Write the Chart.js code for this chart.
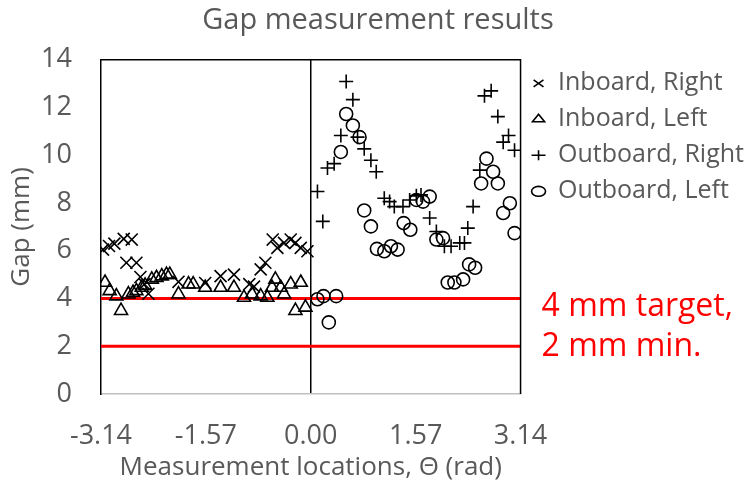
<!DOCTYPE html>
<html>
<head>
<meta charset="utf-8">
<script src="https://cdn.jsdelivr.net/npm/chart.js@4.4.1/dist/chart.umd.min.js"></script>
<style>
  body { margin: 0; background: #fff; }
  #wrap { width: 754px; height: 485px; }
</style>
</head>
<body>
<div id="wrap"><canvas id="gap"></canvas></div>
<script>
// x tick values / labels (rad)
const xTickValues = [-3.14, -1.57, 0, 1.57, 3.14];
const xTickLabels = ['-3.14', '-1.57', '0.00', '1.57', '3.14'];

// Inboard, Right
const inRightTheta = [-3.11, -3.02, -2.94, -2.80, -2.68, -2.76, -2.61, -2.55, -2.49, -2.43, -1.98, -1.58, -1.35, -1.15, -0.92, -0.85, -0.75, -0.68, -0.57, -0.50, -0.40, -0.30, -0.23, -0.15, -0.05];
const inRightGap = [6.05, 6.2, 6.3, 6.5, 6.47, 5.5, 5.5, 4.9, 4.6, 4.2, 4.7, 4.65, 4.94, 5.0, 4.6, 4.5, 5.22, 5.5, 6.47, 6.12, 6.33, 6.47, 6.33, 6.12, 5.98];

// Inboard, Left
const inLeftTheta = [-3.08, -3.01, -2.91, -2.84, -2.73, -2.66, -2.61, -2.53, -2.48, -2.38, -2.31, -2.23, -2.16, -2.11, -1.98, -1.83, -1.76, -1.58, -1.35, -1.15, -1.00, -0.88, -0.75, -0.65, -0.58, -0.53, -0.45, -0.40, -0.30, -0.23, -0.15, -0.08];
const inLeftGap = [4.67, 4.32, 4.1, 3.49, 4.18, 4.25, 4.32, 4.46, 4.55, 4.8, 4.87, 4.94, 5.0, 5.0, 4.18, 4.6, 4.6, 4.46, 4.46, 4.46, 4.04, 4.18, 4.1, 4.04, 4.46, 4.8, 4.46, 4.18, 4.6, 3.49, 4.67, 3.63];

// Outboard, Right
const outRightTheta = [0.10, 0.18, 0.25, 0.35, 0.45, 0.53, 0.63, 0.70, 0.80, 0.90, 0.98, 1.10, 1.18, 1.25, 1.38, 1.48, 1.58, 1.65, 1.78, 1.88, 2.00, 2.10, 2.23, 2.30, 2.35, 2.43, 2.53, 2.60, 2.70, 2.80, 2.88, 2.96, 3.05];
const outRightGap = [8.48, 7.23, 9.47, 9.65, 10.83, 13.09, 12.33, 10.76, 10.27, 9.79, 9.31, 8.2, 8.06, 7.85, 7.85, 8.13, 8.3, 8.34, 7.37, 6.81, 6.19, 6.19, 6.33, 6.33, 6.95, 7.85, 9.38, 12.49, 12.70, 11.62, 10.55, 10.83, 10.21];

// Outboard, Left
const outLeftTheta = [0.10, 0.19, 0.27, 0.38, 0.45, 0.53, 0.63, 0.73, 0.80, 0.90, 0.99, 1.10, 1.20, 1.30, 1.39, 1.49, 1.58, 1.68, 1.78, 1.88, 1.98, 2.05, 2.15, 2.28, 2.37, 2.46, 2.55, 2.63, 2.73, 2.80, 2.88, 2.98, 3.05];
const outLeftGap = [3.97, 4.1, 3.0, 4.1, 10.14, 11.73, 11.25, 10.76, 7.69, 7.02, 6.08, 5.98, 6.19, 6.05, 7.16, 6.88, 8.13, 8.06, 8.27, 6.47, 6.53, 4.67, 4.67, 4.8, 5.43, 5.29, 8.82, 9.86, 9.31, 8.82, 7.58, 7.99, 6.74];

// limit lines
const targetGap = 4;
const minGap = 2;

const FONT = "'Open Sans', sans-serif";
const GREY = '#595959';

function pairs(xs, ys) {
    return xs.map((x, i) => ({ x: x, y: ys[i] }));
}

function markers(label, xs, ys, style, r) {
    return {
        label: label,
        data: pairs(xs, ys),
        pointStyle: style,
        pointRadius: r,
        pointHoverRadius: r,
        borderColor: '#000',
        backgroundColor: 'rgba(0,0,0,0)',
        borderWidth: 1.6
    };
}

function limitLine(v) {
    return {
        label: 'limit ' + v,
        data: [{ x: xTickValues[0], y: v }, { x: xTickValues[xTickValues.length - 1], y: v }],
        showLine: true,
        pointRadius: 0,
        borderColor: '#ff0000',
        borderWidth: 3
    };
}

// frame on top/right and the red notes next to the limit lines
const extras = {
    id: 'extras',
    afterLayout(chart) {
        // let legend text run to the canvas edge (no clipping)
        const lg = chart.legend;
        if (lg) {
            lg.right = chart.width;
            lg.width = lg.right - lg.left;
        }
    },
    afterDraw(chart) {
        const { ctx, chartArea: a, scales } = chart;
        ctx.save();
        ctx.strokeStyle = '#000';
        ctx.lineWidth = 1.5;
        ctx.beginPath();
        ctx.moveTo(a.left, a.top);
        ctx.lineTo(a.right, a.top);
        ctx.lineTo(a.right, a.bottom);
        ctx.stroke();

        ctx.fillStyle = '#ff0000';
        ctx.font = "32px " + FONT;
        ctx.textBaseline = 'middle';
        ctx.fillText('4 mm target,', a.right + 21, scales.y.getPixelForValue(targetGap) + 8);
        ctx.fillText('2 mm min.', a.right + 21, scales.y.getPixelForValue(minGap) + 1);
        ctx.restore();
    }
};

new Chart(document.getElementById('gap'), {
    type: 'scatter',
    data: {
        datasets: [
            markers('Inboard, Right', inRightTheta, inRightGap, 'crossRot', 8.5),
            markers('Inboard, Left', inLeftTheta, inLeftGap, 'triangle', 7.5),
            markers('Outboard, Right', outRightTheta, outRightGap, 'cross', 7),
            markers('Outboard, Left', outLeftTheta, outLeftGap, 'circle', 6.5),
            limitLine(targetGap),
            limitLine(minGap)
        ]
    },
    options: {
        responsive: true,
        maintainAspectRatio: false,
        animation: false,
        layout: { padding: { left: 2, right: 0, top: 0, bottom: 2 } },
        scales: {
            x: {
                type: 'linear',
                min: xTickValues[0],
                max: xTickValues[xTickValues.length - 1],
                afterBuildTicks: (scale) => {
                    scale.ticks = xTickValues.map(v => ({ value: v }));
                },
                afterFit: (scale) => { scale.height = 89; },
                ticks: {
                    callback: (v) => xTickLabels[xTickValues.indexOf(v)],
                    font: { family: FONT, size: 27 },
                    color: GREY,
                    padding: 26,
                    maxRotation: 0,
                    autoSkip: false
                },
                grid: {
                    drawTicks: false,
                    lineWidth: 1.5,
                    color: (c) => (c.tick && c.tick.value === 0) ? '#000' : 'rgba(0,0,0,0)'
                },
                border: { color: '#bfbfbf', width: 1.5 },
                title: {
                    display: true,
                    text: 'Measurement locations, Θ (rad)',
                    font: { family: FONT, size: 26 },
                    color: GREY,
                    padding: 0
                }
            },
            y: {
                min: 0,
                max: 14,
                afterFit: (scale) => { scale.width = 99; },
                ticks: {
                    stepSize: 2,
                    font: { family: FONT, size: 27 },
                    color: GREY,
                    padding: 29
                },
                grid: { display: false, drawTicks: false },
                border: { color: '#000', width: 1.5 },
                title: {
                    display: true,
                    text: 'Gap (mm)',
                    font: { family: FONT, size: 26 },
                    color: GREY,
                    padding: 4
                }
            }
        },
        plugins: {
            title: {
                display: true,
                text: 'Gap measurement results',
                font: { family: FONT, size: 29, weight: 'normal' },
                color: GREY,
                padding: { top: 3, bottom: 22 }
            },
            legend: {
                position: 'right',
                align: 'start',
                fullSize: false,
                maxWidth: 235,
                labels: {
                    usePointStyle: true,
                    pointStyleWidth: 14,
                    boxHeight: 7,
                    padding: 11,
                    font: { family: FONT, size: 25 },
                    color: GREY,
                    filter: (item) => item.datasetIndex < 4
                }
            },
            tooltip: { enabled: false }
        }
    },
    plugins: [extras]
});
</script>
</body>
</html>
